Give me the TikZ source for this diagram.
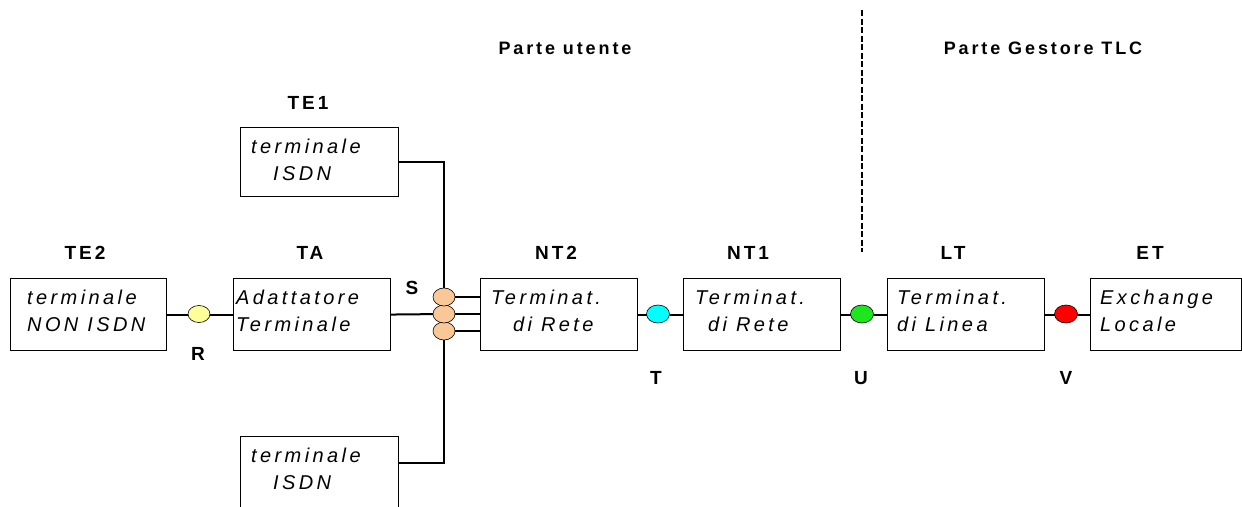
\documentclass[tikz,border=0pt]{standalone}
\usepackage{fontspec}
\setmainfont{Liberation Sans}
\newfontfamily\boxfont[LetterSpace=17]{Liberation Sans}
\newfontfamily\lblfont[LetterSpace=16]{Liberation Sans}
\usetikzlibrary{shapes.geometric,calc}
\definecolor{pyellow}{RGB}{255,255,153}
\definecolor{porange}{RGB}{250,200,150}
\definecolor{pcyan}{RGB}{0,255,255}
\definecolor{pgreen}{RGB}{30,230,30}
\definecolor{pred}{RGB}{255,0,0}
\begin{document}
\begin{tikzpicture}[x=1pt,y=-1pt,
  box/.style={draw, line width=1.1pt, rectangle, inner sep=0pt, anchor=north west, minimum width=157pt, minimum height=72pt},
  txt/.style={anchor=base west, inner sep=0pt, font=\boxfont\itshape\fontsize{20}{22}\selectfont},
  lbl/.style={inner sep=0pt, font=\lblfont\bfseries\fontsize{19}{22}\selectfont},
  head/.style={inner sep=0pt, font=\lblfont\bfseries\fontsize{18}{21}\selectfont},
  wire/.style={line width=2pt},
  port/.style={ellipse, draw, line width=0.6pt, minimum width=23pt, minimum height=18pt, inner sep=0pt}]
\useasboundingbox (0,0) rectangle (1242,506);
\fill[white] (0,0) rectangle (1242,506);

% headings and dashed separator
\node[head] (hu) at (565,48) {Parte utente};
\node[head] (hg) at (1043,48) {Parte Gestore TLC};
\coordinate (dtop) at (862,10);
\coordinate (dbot) at (862,252);
\draw[line width=2.4pt, dash pattern=on 6pt off 2.5pt] (dtop) -- (dbot);

% boxes
\node[box, minimum width=158pt, minimum height=69pt] (te1) at (240,127) {};
\node[box, minimum width=158pt, minimum height=80pt] (bot) at (240,436) {};
\node[box, minimum width=156pt] (te2) at (10,278) {};
\node[box] (ta) at (233,278) {};
\node[box] (nt2) at (480,278) {};
\node[box] (nt1) at (683,278) {};
\node[box] (lt) at (887,278) {};
\node[box, minimum width=151pt] (et) at (1090,278) {};

% box texts
\node[txt] (te1a) at (251,153) {terminale};
\node[txt] (te1b) at (273,180) {ISDN};
\node[txt] (bota) at (251,462) {terminale};
\node[txt] (botb) at (273,489) {ISDN};
\node[txt] (te2a) at (27,304) {terminale};
\node[txt] (te2b) at (27,331) {NON ISDN};
\node[txt] (taa) at (236,304) {Adattatore};
\node[txt] (tab) at (236,331) {Terminale};
\node[txt] (nt2a) at (491,304) {Terminat.};
\node[txt] (nt2b) at (513,331) {di Rete};
\node[txt] (nt1a) at (695,304) {Terminat.};
\node[txt] (nt1b) at (708,331) {di Rete};
\node[txt] (lta) at (897,304) {Terminat.};
\node[txt] (ltb) at (897,331) {di Linea};
\node[txt] (eta) at (1100,304) {Exchange};
\node[txt] (etb) at (1100,331) {Locale};

% labels
\node[lbl] (lte1) at (308,103) {TE1};
\node[lbl] (lte2) at (85,253) {TE2};
\node[lbl] (lta2) at (310,253) {TA};
\node[lbl] (lnt2) at (556,253) {NT2};
\node[lbl] (lnt1) at (748,253) {NT1};
\node[lbl] (llt) at (953,253) {LT};
\node[lbl] (let) at (1150,253) {ET};
\node[lbl] (ls) at (412,288) {S};
\node[lbl] (lr) at (198,354) {R};
\node[lbl] (lt2) at (656,378) {T};
\node[lbl] (lu) at (861,378) {U};
\node[lbl] (lv) at (1066,378) {V};

% port coordinates
\coordinate (pr) at (199,314);
\coordinate (ps1) at (444,297);
\coordinate (ps2) at (444,314);
\coordinate (ps3) at (444,331);
\coordinate (pt) at (658,314);
\coordinate (pu) at (862,314);
\coordinate (pv) at (1066,314);
\coordinate (botc) at ($(bot.north east)+(0,27)$);

% wires
\draw[wire] (te2.east) -- (ta.west);
\draw[wire] (ta.east) -- (ps2);
\draw[wire] (te1.east) -| (ps2);
\draw[wire] (botc) -| (ps2);
\draw[wire] (ps1) -- (ps1 -| nt2.west);
\draw[wire] (ps2) -- (ps2 -| nt2.west);
\draw[wire] (ps3) -- (ps3 -| nt2.west);
\draw[wire] (nt2.east) -- (nt1.west);
\draw[wire] (nt1.east) -- (lt.west);
\draw[wire] (lt.east) -- (et.west);

% ports
\node[port, fill=pyellow, minimum width=22pt, minimum height=17pt] (r) at (pr) {};
\node[port, fill=porange, minimum width=22pt, minimum height=18pt] (s3) at (ps3) {};
\node[port, fill=porange, minimum width=22pt, minimum height=18pt] (s2) at (ps2) {};
\node[port, fill=porange, minimum width=22pt, minimum height=18pt] (s1) at (ps1) {};
\node[port, fill=pcyan] (t) at (pt) {};
\node[port, fill=pgreen] (u) at (pu) {};
\node[port, fill=pred] (v) at (pv) {};
\end{tikzpicture}
\end{document}
